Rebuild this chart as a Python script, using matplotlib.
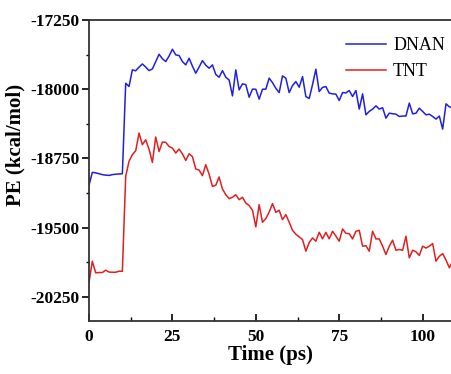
import numpy as np
import matplotlib.pyplot as plt
from matplotlib.ticker import MultipleLocator

# time in ps (one frame per ps)
time = list(range(110))

dnan = [-19040, -18900, -18905, -18915, -18925, -18930, -18933, -18925, -18920, -18918,
        -18915, -17935, -17970, -17790, -17800, -17760, -17726, -17760, -17798, -17780,
        -17700, -17621, -17670, -17700, -17640, -17567, -17628, -17635, -17700, -17736,
        -17664, -17750, -17826, -17760, -17690, -17740, -17772, -17736, -17840, -17870,
        -17798, -17870, -17900, -18072, -17790, -18007, -17942, -17950, -18086, -17999,
        -18000, -18107, -18000, -17999, -17880, -17928, -17990, -18036, -17855, -17880,
        -18036, -17960, -17917, -17978, -17863, -18079, -18100, -17950, -17783, -18025,
        -17980, -17971, -18042, -18050, -18053, -18122, -18036, -18040, -18014, -18079,
        -18014, -18215, -18050, -18277, -18240, -18215, -18180, -18215, -18200, -18313,
        -18259, -18265, -18270, -18295, -18290, -18290, -18150, -18266, -18260, -18205,
        -18240, -18277, -18270, -18295, -18323, -18290, -18432, -18158, -18190, -18200]

tnt = [-20090, -19863, -19988, -19985, -19985, -19960, -19980, -19982, -19982, -19971,
       -19971, -18944, -18780, -18709, -18666, -18475, -18601, -18547, -18650, -18793,
       -18518, -18674, -18572, -18575, -18620, -18637, -18691, -18648, -18700, -18771,
       -18699, -18730, -18864, -18875, -18936, -18817, -18920, -19052, -19040, -18950,
       -19080, -19142, -19185, -19170, -19142, -19196, -19170, -19232, -19260, -19311,
       -19491, -19250, -19441, -19400, -19330, -19239, -19333, -19310, -19412, -19358,
       -19440, -19528, -19570, -19599, -19628, -19754, -19660, -19610, -19646, -19549,
       -19620, -19550, -19620, -19538, -19590, -19646, -19513, -19560, -19565, -19621,
       -19538, -19528, -19700, -19695, -19754, -19538, -19621, -19621, -19700, -19790,
       -19700, -19635, -19744, -19735, -19744, -19592, -19826, -19744, -19760, -19801,
       -19700, -19720, -19700, -19671, -19862, -19810, -19780, -19850, -19934, -19862]

plt.rcParams['font.family'] = ['Liberation Serif', 'DejaVu Serif']
plt.rcParams['axes.unicode_minus'] = False

fig = plt.figure(figsize=(4.52, 3.74), dpi=100)
ax = fig.add_axes([89 / 452, 53 / 374, 363 / 452, 301 / 374])

ax.plot(time, dnan, color='#2020dd', lw=1.1, label='DNAN')
ax.plot(time, tnt, color='#e02020', lw=1.1, label='TNT')

ax.set_xlim(0, 108.8)
ax.set_ylim(-20510, -17250)

ax.xaxis.set_major_locator(MultipleLocator(25))
ax.xaxis.set_minor_locator(MultipleLocator(12.5))
ax.yaxis.set_major_locator(MultipleLocator(750))
ax.yaxis.set_minor_locator(MultipleLocator(375))
ax.set_yticks(np.arange(-20250, -17249, 750))

ax.tick_params(axis='x', which='major', direction='in', length=5, width=1.2, labelsize=12.5, pad=6)
ax.tick_params(axis='x', which='minor', direction='in', length=3, width=1.0)
ax.tick_params(axis='y', which='major', direction='out', length=5, width=1.2, labelsize=12.5, pad=2)
ax.tick_params(axis='y', which='minor', direction='out', length=2.5, width=1.0)
for lab in ax.get_xticklabels() + ax.get_yticklabels():
    lab.set_fontweight('bold')

for s in ['left', 'bottom', 'top']:
    ax.spines[s].set_linewidth(1.3)
    ax.spines[s].set_color('#333333')
ax.spines['right'].set_visible(False)

ax.set_xlabel('Time (ps)', fontsize=15, fontweight='bold', labelpad=0)
ax.set_ylabel('PE (kcal/mol)', fontsize=15, fontweight='bold')
ax.yaxis.set_label_coords(-0.175, 0.585)

ax.legend(loc='upper right', frameon=False, fontsize=13, handlelength=2.2,
          handletextpad=0.4, labelspacing=0.5, borderaxespad=0.3,
          bbox_to_anchor=(1.015, 0.985))

fig.savefig('out.png', dpi=100)
